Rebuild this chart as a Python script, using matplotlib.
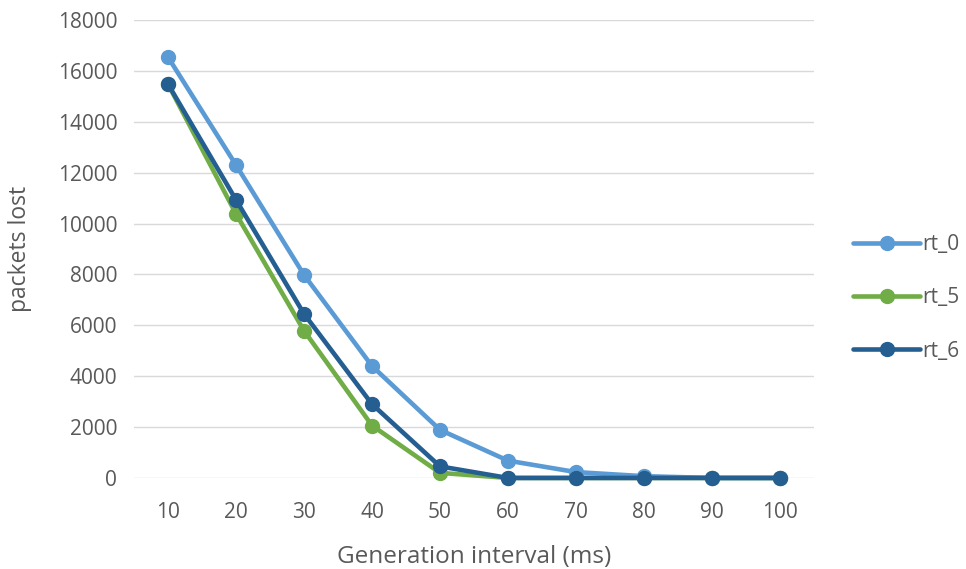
import matplotlib
matplotlib.use("Agg")
import matplotlib.pyplot as plt
import numpy as np

categories = ["10", "20", "30", "40", "50", "60", "70", "80", "90", "100"]
rt_0 = [16540, 12300, 7980, 4400, 1890, 680, 230, 70, 0, 0]
rt_5 = [15480, 10380, 5790, 2060, 200, 0, 0, 0, 0, 0]
rt_6 = [15480, 10930, 6450, 2900, 455, 0, 0, 0, 0, 0]
series_names = ["rt_0", "rt_5", "rt_6"]
colors = ["#5B9BD5", "#70AD47", "#255E91"]
yticks = [0, 2000, 4000, 6000, 8000, 10000, 12000, 14000, 16000, 18000]

plt.rcParams['font.family'] = ['Open Sans', 'DejaVu Sans']
fig = plt.figure(figsize=(9.66, 5.69), dpi=100)
ax = fig.add_axes([0.1387, 0.16, 0.704, 0.8049])

x = np.arange(len(categories))
for vals, name, c in zip([rt_0, rt_5, rt_6], series_names, colors):
    ax.plot(x, vals, color=c, lw=3.3, marker='o', ms=10, label=name,
            solid_capstyle='round', solid_joinstyle='round')

ax.set_xlim(-0.5, len(categories) - 0.5)
ax.set_ylim(0, 18000)
ax.set_xticks(x)
ax.set_xticklabels(categories)
ax.set_yticks(yticks)
ax.set_yticklabels([str(v) for v in yticks])
ax.tick_params(axis='both', length=0, labelsize=15, labelcolor='#595959')
ax.tick_params(axis='x', pad=17)
ax.tick_params(axis='y', pad=12)
ax.grid(axis='y', color='#D9D9D9', lw=1)
ax.set_axisbelow(True)
for s in ax.spines.values():
    s.set_visible(False)
for ln in ax.lines:
    ln.set_clip_on(False)

ax.set_xlabel("Generation interval (ms)", fontsize=17.5, color='#595959')
ax.xaxis.set_label_coords(0.5, -0.147)
ax.set_ylabel("packets lost", fontsize=16.5, color='#595959')
ax.yaxis.set_label_coords(-0.15, 0.5)

leg = ax.legend(loc='center left', bbox_to_anchor=(1.03, 0.393), frameon=False,
                fontsize=15, labelcolor='#595959', handlelength=3.2,
                handletextpad=0.1, labelspacing=1.55)

fig.savefig("out.png", dpi=100)
